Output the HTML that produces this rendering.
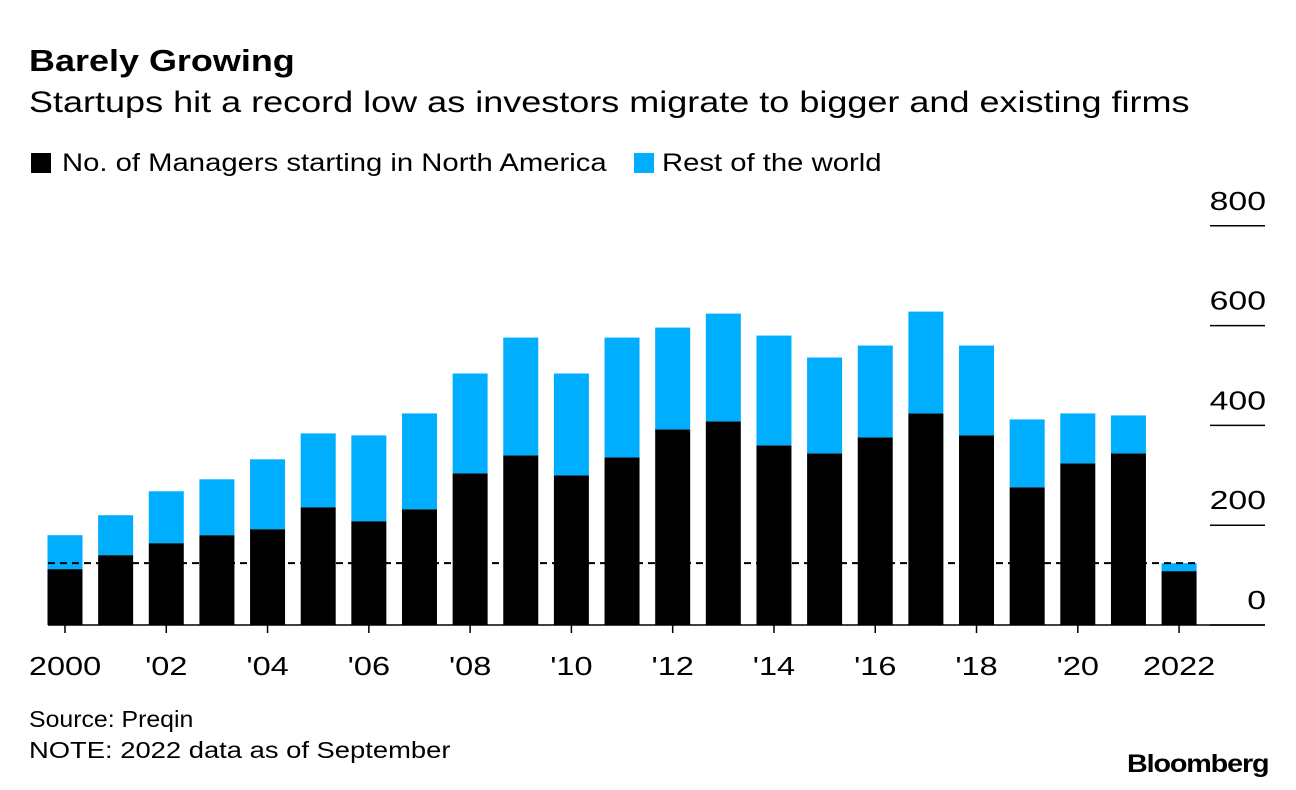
<!DOCTYPE html>
<html><head><meta charset="utf-8">
<style>
body{margin:0;background:#fff;font-family:"Liberation Sans",sans-serif;}
#wrap{position:relative;width:1296px;height:790px;overflow:hidden;}
.t{position:absolute;white-space:nowrap;color:#000;transform-origin:0 0;}
</style></head>
<body>
<div id="wrap">
<div class="t" style="left:29px;top:43px;font-size:31px;font-weight:bold;transform:scaleX(1.16);">Barely Growing</div>
<div class="t" style="left:29px;top:86px;font-size:30px;transform:scaleX(1.2);">Startups hit a record low as investors migrate to bigger and existing firms</div>
<div class="t" style="left:31px;top:149px;font-size:25px;"><span style="display:inline-block;width:20px;height:20px;background:#000;vertical-align:-2px;margin-right:11px;"></span><span style="display:inline-block;transform:scaleX(1.17);transform-origin:0 0;">No. of Managers starting in North America</span></div>
<div class="t" style="left:634px;top:149px;font-size:25px;"><span style="display:inline-block;width:20px;height:20px;background:#00aeff;vertical-align:-2px;margin-right:8px;"></span><span style="display:inline-block;transform:scaleX(1.17);transform-origin:0 0;">Rest of the world</span></div>
<svg id="chart" width="1296" height="790" style="position:absolute;left:0;top:0;"></svg>
<div class="t" style="left:29px;top:706px;font-size:23px;transform:scaleX(1.08);">Source: Preqin</div>
<div class="t" style="left:29px;top:737px;font-size:23px;transform:scaleX(1.19);">NOTE: 2022 data as of September</div>
<div class="t" style="left:1127px;top:750px;font-size:25px;font-weight:bold;letter-spacing:-1px;transform:scaleX(1.15);">Bloomberg</div>
</div>
<script>
const years=[2000,2001,2002,2003,2004,2005,2006,2007,2008,2009,2010,2011,2012,2013,2014,2015,2016,2017,2018,2019,2020,2021,2022];
const northAmerica=[112,140,164,180,192,236,208,232,304,340,300,336,392,408,360,344,376,424,380,276,324,344,108];
const restOfWorld=[68,80,104,112,140,148,172,192,200,236,204,240,204,216,220,192,184,204,180,136,100,76,16];
const yTicks=[0,200,400,600,800];
const xLabels=["2000","'02","'04","'06","'08","'10","'12","'14","'16","'18","'20","2022"];
const referenceLine=124;
const NS="http://www.w3.org/2000/svg";
const svg=document.getElementById('chart');
const y0=625,yScale=0.499;
const y=v=>y0-v*yScale;
const x=i=>65+i*50.64;
const bw=35;
function mk(tag,attrs){const e=document.createElementNS(NS,tag);for(const k in attrs)e.setAttribute(k,attrs[k]);svg.appendChild(e);return e;}
yTicks.forEach(v=>{
 const l=mk('line',{x1:1210,x2:1265,y1:y(v),y2:y(v),stroke:'#000','stroke-width':1.5});
 
 
 const t=mk('text',{x:0,y:0,'text-anchor':'end','font-size':26,'font-family':'Liberation Sans, sans-serif',transform:'translate(1266,'+(y(v)-16)+') scale(1.3,1)'});
 t.textContent=v;
 
 
});
years.forEach((yr,i)=>{
 const b=mk('rect',{x:x(i)-bw/2,y:y(northAmerica[i]),width:bw,height:northAmerica[i]*yScale,fill:'#000'});
 
 
 const r=mk('rect',{x:x(i)-bw/2,y:y(northAmerica[i]+restOfWorld[i]),width:bw,height:restOfWorld[i]*yScale,fill:'#00aeff'});
 
 
});
const ax=mk('line',{x1:48,x2:1265,y1:y0,y2:y0,stroke:'#000','stroke-width':1.5});


const dl=mk('line',{x1:48,x2:1197,y1:y(referenceLine),y2:y(referenceLine),stroke:'#000','stroke-width':2,'stroke-dasharray':'7,5'});


xLabels.forEach((lab,j)=>{
 const i=j*2;
 const tk=mk('line',{x1:x(i),x2:x(i),y1:y0,y2:y0+8,stroke:'#000','stroke-width':1.5});
 
 
 const t=mk('text',{x:0,y:0,'text-anchor':'middle','font-size':26,'font-family':'Liberation Sans, sans-serif',transform:'translate('+x(i)+',675) scale(1.25,1)'});
 t.textContent=lab;
 
 
});
</script>
</body></html>
